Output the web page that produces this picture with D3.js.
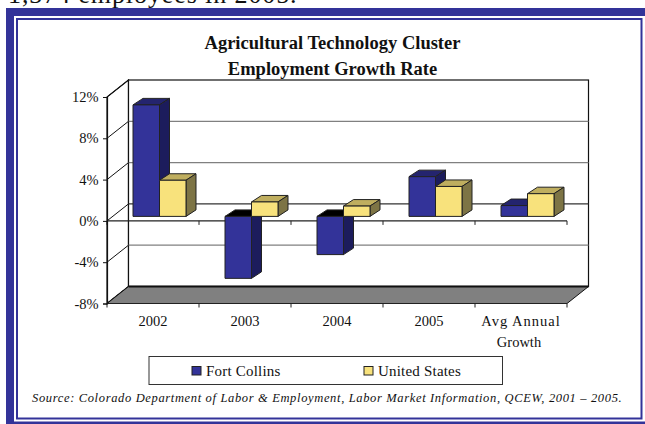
<!DOCTYPE html>
<html>
<head>
<meta charset="utf-8">
<script src="https://cdnjs.cloudflare.com/ajax/libs/d3/7.8.5/d3.min.js"></script>
<style>
	html, body { margin: 0; padding: 0; background: #fff; overflow: hidden; }
	text { font-family: "Liberation Serif", serif; fill: #111; }
</style>
</head>
<body>
<div id="chart"></div>
<script>
// Chart data
const categories = ["2002", "2003", "2004", "2005", "Avg Annual|Growth"];
const seriesNames = ["Fort Collins", "United States"];
const fortCollins = [10.8, -6.0, -3.7, 3.85, 1.05];
const unitedStates = [3.5, 1.4, 1.0, 2.9, 2.2];
const yTicks = [12, 8, 4, 0, -4, -8];

const frontColors = ["#333399", "#f8e27c"];
const sideColors = ["#1c1c5c", "#7d7445"];
const topColors = ["#24246e", "#bfae5f"];
const outline = "#222";

const svg = d3.select("#chart").append("svg")
	.attr("width", 645)
	.attr("height", 424)
	.style("display", "block");

// Sentence from the page behind the chart, cut by the frame
svg.append("text")
	.attr("x", 8)
	.attr("y", 3)
	.attr("font-size", 26)
	.attr("letter-spacing", 0.9)
	.text("1,374 employees in 2005.");

// Frame
svg.append("rect").attr("x", 6).attr("y", 8).attr("width", 639).attr("height", 416).attr("fill", "#333399");
svg.append("rect").attr("x", 14).attr("y", 16).attr("width", 631).attr("height", 405.5).attr("fill", "#fff");
svg.append("rect").attr("x", 17).attr("y", 19).attr("width", 624.5).attr("height", 399.5)
	.attr("fill", "#fff").attr("stroke", "#333399").attr("stroke-width", 2);

// Scales
const x = d3.scaleBand().domain(categories).range([107, 567]);
const y = d3.scaleLinear().domain([-8, 12]).range([303.5, 97]);
const wallDx = 21.5, wallDy = -17;
const barShiftX = 6.5, barShiftY = -4.5, barDx = 10, barDy = -6.5;
const inner = d3.scaleBand().domain([0, 1]).range([x.bandwidth() / 2 - 26.5, x.bandwidth() / 2 + 26.5]);

const poly = (pts) => pts.map((p) => p.join(",")).join(" ");

// Back wall and side wall
const g = svg.append("g");
g.append("polygon")
	.attr("points", poly([[107, y(-8)], [107, y(12)], [107 + wallDx, y(12) + wallDy], [107 + wallDx, y(-8) + wallDy]]))
	.attr("fill", "#fff").attr("stroke", "#111").attr("stroke-width", 1.2);
g.append("rect")
	.attr("x", 107 + wallDx).attr("y", y(12) + wallDy)
	.attr("width", 460).attr("height", y(-8) - y(12))
	.attr("fill", "#fff").attr("stroke", "#111").attr("stroke-width", 1.2);

// Gridlines on the walls
yTicks.forEach((t) => {
	if (t !== 12 && t !== -8) {
		g.append("line")
			.attr("x1", 107 + wallDx).attr("x2", 567 + wallDx)
			.attr("y1", y(t) + wallDy).attr("y2", y(t) + wallDy)
			.attr("stroke", t === 0 ? "#333" : "#808080").attr("stroke-width", 1.3);
	}
	g.append("line")
		.attr("x1", 107).attr("x2", 107 + wallDx)
		.attr("y1", y(t)).attr("y2", y(t) + wallDy)
		.attr("stroke", "#111").attr("stroke-width", 1);
});

// Floor
g.append("polygon")
	.attr("points", poly([[107, y(-8)], [567, y(-8)], [567 + wallDx, y(-8) + wallDy], [107 + wallDx, y(-8) + wallDy]]))
	.attr("fill", "#808080").attr("stroke", "#111").attr("stroke-width", 1);
g.append("line")
	.attr("x1", 107 + wallDx).attr("x2", 567 + wallDx)
	.attr("y1", y(-8) + wallDy).attr("y2", y(-8) + wallDy)
	.attr("stroke", "#111").attr("stroke-width", 2);

// Axis along the zero plane, behind the bars
const xAxisLine = (yPos) => {
	g.append("line").attr("x1", 107).attr("x2", 567).attr("y1", yPos).attr("y2", yPos)
		.attr("stroke", "#222").attr("stroke-width", 1.2);
	categories.forEach((c) => {
		g.append("line").attr("x1", x(c)).attr("x2", x(c)).attr("y1", yPos).attr("y2", yPos + 4)
			.attr("stroke", "#222");
	});
	g.append("line").attr("x1", 567).attr("x2", 567).attr("y1", yPos).attr("y2", yPos + 4)
		.attr("stroke", "#222");
};
xAxisLine(y(0));
xAxisLine(y(-8));

// Left axis
const yAxis = d3.axisLeft(y).tickValues(yTicks).tickSize(4).tickFormat((d) => d + "%");
const yG = svg.append("g").attr("transform", "translate(107,0)").call(yAxis);
yG.select(".domain").attr("stroke", "#111").attr("stroke-width", 1.2);
yG.selectAll(".tick line").attr("stroke", "#111");
yG.selectAll(".tick text").attr("font-size", 14.5).attr("fill", "#222")
	.attr("font-family", "Liberation Serif").attr("x", -8.3);

// Bars
const drawBar = (cat, s, v) => {
	const left = x(cat) + inner(s) + barShiftX;
	const w = inner.bandwidth();
	const base = y(0) + barShiftY;
	const end = y(0) + barShiftY - (y(0) - y(v));
	const top = Math.min(base, end), bottom = Math.max(base, end);
	const bar = svg.append("g").attr("stroke", outline).attr("stroke-width", 1).attr("stroke-linejoin", "round");
	// a bar going down shows the black inside of its open top
	bar.append("polygon")
		.attr("points", poly([[left, top], [left + barDx, top + barDy], [left + w + barDx, top + barDy], [left + w, top]]))
		.attr("fill", v < 0 ? "#000" : topColors[s]);
	bar.append("polygon")
		.attr("points", poly([[left + w, top], [left + w + barDx, top + barDy], [left + w + barDx, bottom + barDy], [left + w, bottom]]))
		.attr("fill", sideColors[s]);
	bar.append("rect")
		.attr("x", left).attr("y", top)
		.attr("width", w).attr("height", bottom - top)
		.attr("fill", frontColors[s]);
};

categories.forEach((c, i) => {
	// the blue bar goes first, the yellow one stands in front of its side
	drawBar(c, 0, fortCollins[i]);
	drawBar(c, 1, unitedStates[i]);
});

// Category labels
categories.forEach((c) => {
	const lines = c.split("|");
	lines.forEach((line, j) => {
		svg.append("text")
			.attr("x", x(c) + x.bandwidth() / 2 + (line === "Growth" ? -2 : 0))
			.attr("y", 326 + j * 21)
			.attr("text-anchor", "middle")
			.attr("font-size", 14.5)
			.attr("letter-spacing", line.startsWith("Avg") ? 1 : 0)
			.attr("fill", "#222")
			.text(line);
	});
});

// Title
["Agricultural Technology Cluster", "Employment Growth Rate"].forEach((t, i) => {
	svg.append("text")
		.attr("x", 332.5)
		.attr("y", 49 + i * 26)
		.attr("text-anchor", "middle")
		.attr("font-size", 18.5)
		.attr("font-weight", "bold")
		.text(t);
});

// Legend
svg.append("rect").attr("x", 149).attr("y", 356.5).attr("width", 353.5).attr("height", 28)
	.attr("fill", "#fff").attr("stroke", "#333").attr("stroke-width", 1);
const legendX = [192, 364];
seriesNames.forEach((name, i) => {
	svg.append("rect").attr("x", legendX[i]).attr("y", 366.5).attr("width", 9).attr("height", 8.5)
		.attr("fill", frontColors[i]).attr("stroke", "#222").attr("stroke-width", 1);
	svg.append("text").attr("x", legendX[i] + 14).attr("y", 376)
		.attr("font-size", 15).attr("letter-spacing", 0.2).attr("fill", "#222").text(name);
});

// Source note
svg.append("text")
	.attr("x", 32)
	.attr("y", 402)
	.attr("font-size", 12.5)
	.attr("font-style", "italic")
	.attr("letter-spacing", 0.65)
	.attr("fill", "#222")
	.text("Source: Colorado Department of Labor & Employment, Labor Market Information, QCEW, 2001 – 2005.");
</script>
</body>
</html>
